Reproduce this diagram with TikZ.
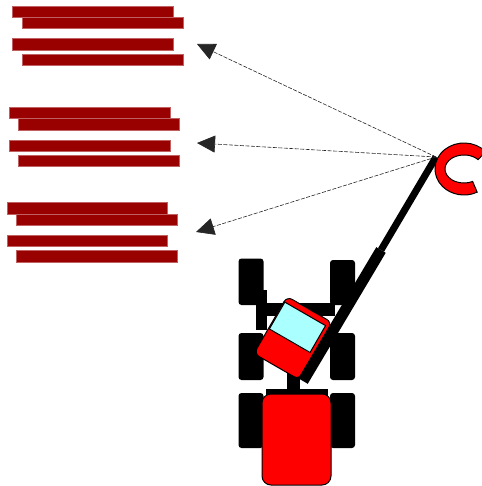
\documentclass[tikz,border=0pt]{standalone}
\usetikzlibrary{arrows.meta}
\definecolor{barred}{HTML}{990000}
\definecolor{baredge}{HTML}{C06060}
\definecolor{glass}{HTML}{AAFFFF}
\begin{document}
\begin{tikzpicture}[x=1pt,y=-1pt,
  bar/.style={fill=barred,draw=baredge,line width=0.5pt},
  wheel/.style={fill=black,rounded corners=3},
  frame/.style={fill=black},
  bodyred/.style={fill=red,draw=black,line width=1pt},
  sightline/.style={draw=black!85,line width=0.6pt,dash pattern=on 4pt off 1.5pt,
    -{Triangle[length=18pt,width=17pt]}}]
\useasboundingbox (0,0) rectangle (481,486);

% label placeholders, three groups of four bars
\draw[bar] (12.7,6) rectangle (173.3,17.3);
\draw[bar] (22.3,17.3) rectangle (183,28.7);
\draw[bar] (12.7,38.7) rectangle (173.3,50);
\draw[bar] (22.3,54) rectangle (183,65.3);

\draw[bar] (9,107.3) rectangle (170,118.7);
\draw[bar] (18.3,118.7) rectangle (179.3,130);
\draw[bar] (9,140) rectangle (170,151);
\draw[bar] (18.3,155) rectangle (179.3,166);

\draw[bar] (7,202.7) rectangle (167.7,214);
\draw[bar] (16.7,214) rectangle (177.3,225.3);
\draw[bar] (7,235.3) rectangle (167.7,246.7);
\draw[bar] (16.7,250.7) rectangle (177.3,262);

% wheels
\path[wheel] (238.5,258.5) rectangle (263.5,305);
\path[wheel] (330,260) rectangle (355,305);
\path[wheel] (238.5,333) rectangle (263.5,380);
\path[wheel] (330,333) rectangle (355,380);
\path[wheel] (238.5,393) rectangle (263.5,448);
\path[wheel] (330,393) rectangle (355,448);

% chassis pieces
\path[frame] (256,290) rectangle (267,330);
\path[frame] (258,303) rectangle (335,316);
\path[frame] (287,370) rectangle (300,392);
\path[frame] (266,389) rectangle (328,398);

% rear body
\draw[bodyred,rounded corners=9] (262,394) rectangle (331,485);

% turret cabin
\begin{scope}[shift={(293,338)},rotate=-30]
  \draw[bodyred,rounded corners=6] (-26,-33) rectangle (26,33);
  \draw[fill=glass,draw=black,line width=1pt] (-25,-27) rectangle (22,4);
\end{scope}

% boom
\coordinate (boomfoot) at (303,381);
\coordinate (boomstep) at (381,250);
\coordinate (hub) at (436,157);
\draw[line width=11pt] (boomfoot) -- (boomstep);
\draw[line width=7pt] (boomstep) -- (hub);

% hook
\draw[fill=red,draw=black,line width=1pt]
  ([shift={(-42:29 and 26)}]464,169) arc[start angle=-42,end angle=-297,x radius=29,y radius=26]
  -- ([shift={(-297:19 and 14)}]464,169) arc[start angle=-297,end angle=-42,x radius=19,y radius=14]
  -- cycle;

% sight lines
\coordinate (tip1) at (197,44);
\coordinate (tip2) at (197,143);
\coordinate (tip3) at (196,232);
\draw[sightline] (hub) -- (tip1);
\draw[sightline] (hub) -- (tip2);
\draw[sightline] (hub) -- (tip3);
\end{tikzpicture}
\end{document}
